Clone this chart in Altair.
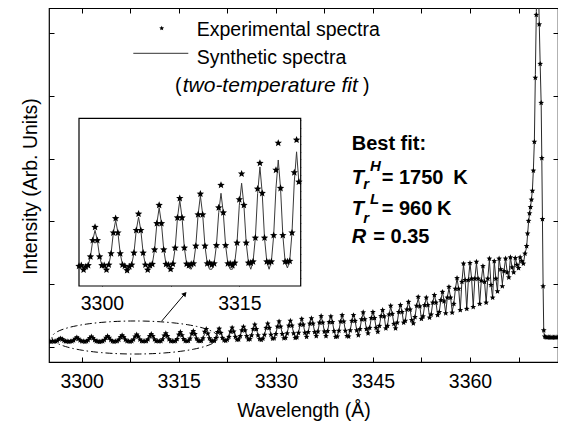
import math
import altair as alt
import pandas as pd

FONT = "Liberation Sans, Arial, Helvetica, sans-serif"

# ---------------- data ----------------
GRID_START = 3295.0
GRID_STEP = 0.25
# synthetic spectrum, one row per Angstrom (x.00, x.25, x.50, x.75)
synth_body = [
    0, 0, 0, 0,                 # 3295
    0.3, 1.5, 3.7, 5.0,         # 3296
    3.7, 1.5, 0.3, 0,           # 3297
    0, 0, 0.4, 1.8,             # 3298
    4.4, 6.0, 4.4, 1.8,         # 3299
    0.4, 0, 0, 0.5,             # 3300
    2.3, 5.6, 7.6, 5.6,         # 3301
    2.3, 0.5, 0, 0,             # 3302
    0, 0.5, 2.4, 6.0,           # 3303
    8.1, 6.0, 2.4, 0.5,         # 3304
    0, 0, 0.6, 2.9,             # 3305
    7.1, 9.6, 7.1, 2.9,         # 3306
    0.6, 0, 0, 0.65,            # 3307
    3.2, 8.0, 10.8, 8.0,        # 3308
    3.2, 0.65, 0, -0.2,         # 3309
    0.7, 3.5, 8.5, 11.5,        # 3310
    8.5, 3.5, 0.7, -0.2,        # 3311
    -0.2, 0.7, 3.6, 8.8,        # 3312
    11.9, 8.8, 3.6, 0.7,        # 3313
    -0.2, -0.2, 0.8, 4.0,       # 3314
    10.0, 13.5, 10.0, 4.0,      # 3315
    0.8, -0.2, 1.0, 4.8,        # 3316
    11.9, 16.1, 11.9, 4.8,      # 3317
    1.0, -0.2, 1.0, 5.2,        # 3318
    12.7, 17.2, 12.7, 5.2,      # 3319
    1.0, 0.0, 1.1, 5.6,         # 3320
    13.7, 18.5, 13.7, 5.8,      # 3321
    2.0, 1.2, 2.8, 7.5,         # 3322
    15.9, 21.0, 15.9, 7.5,      # 3323
    2.8, 3.3, 8.5, 17.8,        # 3324
    23.5, 17.8, 8.5, 3.3,       # 3325
    3.9, 9.7, 19.8, 26.0,       # 3326
    19.8, 9.7, 3.9, 2.6,        # 3327
    4.6, 10.8, 21.7, 28.5,      # 3328
    21.7, 10.8, 4.6, 5.2,       # 3329
    12.0, 23.7, 31.0, 23.7,     # 3330
    12.0, 5.2, 5.9, 13.0,       # 3331
    25.3, 33.0, 25.3, 13.0,     # 3332
    5.9, 6.5, 13.9, 26.9,       # 3333
    35.0, 26.9, 13.9, 7.5,      # 3334
    14.9, 28.5, 37.0, 28.5,     # 3335
    14.9, 8.5, 15.9, 30.2,      # 3336
    39.0, 30.2, 15.9, 8.5,      # 3337
    16.5, 31.0, 40.0, 31.0,     # 3338
    16.5, 7.5, 8.0, 17.2,       # 3339
    31.9, 41.0, 31.9, 17.2,     # 3340
    8.8, 8.0, 17.9, 32.8,       # 3341
    42.0, 32.8, 17.9, 10.0,     # 3342
    19.8, 35.4, 45.0, 35.4,     # 3343
    19.8, 13.0, 21.8, 37.4,     # 3344
    47.0, 37.4, 21.8, 15.5,     # 3345
    24.8, 40.4, 50.0, 40.0,     # 3346
    21, 25, 43, 55,             # 3347
    44, 28, 21, 30,             # 3348
    47, 58, 47, 30,             # 3349
    33, 51, 63, 51,             # 3350
    34, 29, 39, 57,             # 3351
    69, 56, 36, 40,             # 3352
    58, 70, 58, 40,             # 3353
    43, 62, 74, 62,             # 3354
    42, 47, 66, 79,             # 3355
    64, 45, 70, 85,             # 3356
    70, 48, 60, 84,             # 3357
    101, 84, 50, 95,            # 3358
    122, 98, 52, 98,            # 3359
    125, 100, 55, 100,          # 3360
    125, 100, 60, 97,           # 3361
    120, 95, 62, 100,           # 3362
    130, 90, 70, 128,           # 3363
    100, 80, 132, 115,          # 3364
    92, 112, 132, 110,          # 3365
    102, 134, 118, 110,         # 3366
    133, 122, 117, 134,         # 3367
    128, 124, 140,              # 3368
]
# experimental points that differ from the synthetic curve
exp_override = {
    3295.0: 0.3, 3295.25: -0.3, 3295.5: 0.4, 3295.75: 0.1, 3297.75: 0.4,
    3298.0: -0.3, 3298.25: 0.2, 3299.25: 6.5, 3300.25: 0.4, 3300.5: -0.3,
    3301.5: 7.9, 3302.5: 0.3, 3302.75: -0.4, 3303.0: 0.2, 3304.0: 8.6,
    3305.0: -0.3, 3305.25: 0.4, 3306.25: 10.0, 3307.25: 0.5, 3307.5: -0.2,
    3308.5: 11.1, 3309.5: 0.4, 3309.75: 0.6, 3310.75: 11.8, 3311.75: 0.8,
    3312.0: 0.5, 3312.75: 9.6, 3313.0: 13.2, 3314.0: 0.7, 3314.25: 0.4,
    3315.0: 10.9, 3315.25: 15.0, 3316.25: 0.8, 3317.0: 12.6, 3317.25: 16.7,
    3318.25: 0.9, 3319.0: 15.6, 3319.25: 19.9, 3320.25: 1.0, 3321.0: 15.2,
    3321.25: 20.4, 3323.25: 22.0, 3326.75: 27.0, 3330.5: 32.0, 3334.0: 36.0,
    3337.0: 40.5, 3340.25: 42.0, 3343.5: 46.5, 3347.75: 57.0, 3352.0: 71.0,
    3353.75: 38.0, 3356.75: 87.0, 3357.25: 46.0, 3359.0: 124.0, 3361.0: 127.0,
    3363.0: 132.0, 3365.0: 88.0,
}
# band head, sampled more finely
head_lam = [3368.75, 3368.9, 3369.05, 3369.2, 3369.35, 3369.5, 3369.65, 3369.8,
            3369.95, 3370.1, 3370.25, 3370.4, 3370.55, 3370.7, 3370.85, 3371.0,
            3371.1, 3371.2, 3371.3, 3371.4, 3371.55, 3371.7, 3371.9, 3372.1,
            3372.3, 3372.5, 3372.7, 3372.9, 3373.1, 3373.3, 3373.5]
head_exp = [152, 172, 192, 204, 214, 226, 240, 272, 318, 420, 520, 590, 575, 505,
            442, 380, 292, 195, 88, 18, 8, 7, 6.5, 6.8, 6.5, 6.7, 6.4, 6.6, 6.5,
            6.7, 6.5]
head_syn = [150, 170, 190, 203, 214, 226, 242, 275, 320, 425, 525, 595, 580, 508,
            440, 378, 290, 192, 86, 16, 6, 5.5, 5.5, 5.5, 5.5, 5.5, 5.5, 5.5, 5.5,
            5.5, 5.5]

X_TICK_LABELS = [3300, 3315, 3330, 3345, 3360]
INSET_TICK_LABELS = [3300, 3315]

# ---------------- layout constants ----------------
X_MAIN = [3294.95, 3373.6]
Y_MAIN = [-32.6, 531.0]
X_TICKS = [3300, 3307.5, 3315, 3322.5, 3330, 3337.5, 3345, 3352.5, 3360, 3367.5]
Y_TICKS = [-8.8, 91.2, 191.2, 291.2, 391.2, 491.2]
X_IN = [3297.5, 3321.7]
Y_IN = [-2.87, 23.84]
X_IN_TICKS = [3300, 3307.5, 3315]
Y_IN_TICKS = [round(5.94 + 1.26 * k, 2) for k in range(-6, 15)]
W, H = 509, 354

body_lam = [GRID_START + GRID_STEP * i for i in range(len(synth_body))]
body_exp = [exp_override.get(round(l, 2), v) for l, v in zip(body_lam, synth_body)]
df = pd.DataFrame({
    "lam": body_lam + head_lam,
    "exp": body_exp + head_exp,
    "syn": synth_body + head_syn,
})

STAR = ("M0,-1L0.2645,-0.364L0.951,-0.309L0.428,0.139L0.588,0.809L0,0.45"
        "L-0.588,0.809L-0.428,0.139L-0.951,-0.309L-0.2645,-0.364Z")

xs = alt.Scale(domain=X_MAIN, nice=False, zero=False)
ys = alt.Scale(domain=Y_MAIN, nice=False, zero=False)
xsi = alt.Scale(domain=X_IN, range=[30, 251.7], nice=False, zero=False)
ysi = alt.Scale(domain=Y_IN, range=[278, 110.3], nice=False, zero=False)

lab_expr = "indexof([" + ",".join(str(v) for v in X_TICK_LABELS) + "], datum.value) >= 0 ? format(datum.value, 'd') : ''"
lab_expr_in = "indexof([" + ",".join(str(v) for v in INSET_TICK_LABELS) + "], datum.value) >= 0 ? format(datum.value, 'd') : ''"

common = dict(grid=False, domain=False, tickColor="black", tickWidth=1,
              labelFont=FONT, labelColor="black", labelFontSize=19.5,
              titleFont=FONT, titleColor="black", titleFontSize=19.5,
              titleFontWeight="normal", labelFlush=False, labelOverlap=False)

ax_bottom = alt.Axis(orient="bottom", offset=-5, tickSize=5, values=X_TICKS,
                     labelExpr=lab_expr, labelPadding=10,
                     title="Wavelength (Å)", titleX=254.5, titleY=59,
                     titleAlign="center", titleBaseline="alphabetic", **common)
ax_top = alt.Axis(orient="top", offset=-5, tickSize=5, values=X_TICKS,
                  labels=False, title=None, **common)
ax_left = alt.Axis(orient="left", offset=-5, tickSize=5, values=Y_TICKS,
                   labels=False, title="Intensity (Arb. Units)", titleX=-17.5,
                   titleY=178, titleAngle=270, titleAlign="center",
                   titleBaseline="alphabetic", **common)
ax_right = alt.Axis(orient="right", offset=-5, tickSize=5, values=Y_TICKS,
                    labels=False, title=None, **common)

ai_bottom = alt.Axis(orient="bottom", offset=-80, tickSize=4, values=X_IN_TICKS,
                     labelExpr=lab_expr_in, labelPadding=8.6, title=None, **common)
ai_top = alt.Axis(orient="top", offset=-114.3, tickSize=4, values=X_IN_TICKS,
                  labels=False, title=None, **common)
ai_left = alt.Axis(orient="left", offset=-33, tickSize=3, values=Y_IN_TICKS,
                   labels=False, title=None, **common)
ai_right = alt.Axis(orient="right", offset=-260.3, tickSize=3, values=Y_IN_TICKS,
                    labels=False, title=None, **common)

base = alt.Chart(df)

main_line = base.mark_line(color="#2a2a2a", strokeWidth=1, clip=True).encode(
    x=alt.X("lam:Q", scale=xs, axis=ax_bottom),
    y=alt.Y("syn:Q", scale=ys, axis=ax_left),
)
main_pts = base.mark_point(shape=STAR, filled=True, color="black", size=36,
                           opacity=1, clip=True).encode(
    x=alt.X("lam:Q", scale=xs, axis=ax_top),
    y=alt.Y("exp:Q", scale=ys, axis=ax_right),
)

# dash-dot ellipse around the region magnified in the inset
ELL_CX, ELL_CY, ELL_A, ELL_B = 3308.24, 6.4, 12.83, 26.3
n = 120
ell_df = pd.DataFrame({
    "i": list(range(n + 1)),
    "x": [ELL_CX + ELL_A * math.cos(2 * math.pi * i / n) for i in range(n + 1)],
    "y": [ELL_CY + ELL_B * math.sin(2 * math.pi * i / n) for i in range(n + 1)],
})
ellipse = alt.Chart(ell_df).mark_line(color="black", strokeWidth=1,
                                      strokeDash=[7, 3, 1.5, 3]).encode(
    x=alt.X("x:Q", scale=xs, axis=None),
    y=alt.Y("y:Q", scale=ys, axis=None),
    order="i:Q",
)

ARROW = pd.DataFrame({"x": [3312.37], "y": [32.6], "x2": [3315.9], "y2": [75.5]})
ARROW_TIP = pd.DataFrame({"x": [3315.95], "y": [76.0]})
arrow = alt.Chart(ARROW).mark_rule(color="black", strokeWidth=1).encode(
    x=alt.X("x:Q", scale=xs, axis=None), x2="x2:Q",
    y=alt.Y("y:Q", scale=ys, axis=None), y2="y2:Q",
)
arrow_head = alt.Chart(ARROW_TIP).mark_point(shape="triangle-up", filled=True,
                                             color="black", size=30, angle=40.6,
                                             opacity=1).encode(
    x=alt.X("x:Q", scale=xs, axis=None),
    y=alt.Y("y:Q", scale=ys, axis=None),
)

one = pd.DataFrame({"a": [0]})


def label(text, x, y, size=19.5, weight="normal", style="normal"):
    return alt.Chart(pd.DataFrame({"t": [text]})).mark_text(
        font=FONT, fontSize=size, fontWeight=weight, fontStyle=style,
        align="left", baseline="alphabetic", color="black",
    ).encode(x=alt.value(x), y=alt.value(y), text="t:N")


legend_star = alt.Chart(one).mark_point(shape=STAR, filled=True, color="black",
                                        size=26, opacity=1).encode(
    x=alt.value(112.7), y=alt.value(20.3))
legend_line = alt.Chart(one).mark_rule(color="#333333", strokeWidth=1).encode(
    x=alt.value(84.3), x2=alt.value(139.3), y=alt.value(45.3))

texts = [
    label("Experimental spectra", 147.7, 28),
    label("Synthetic spectra", 147.7, 56),
    label("(", 126, 83.5),
    label("two-temperature fit", 133.7, 83.5, size=21, style="italic"),
    label(")", 314, 83.5),
    label("Best fit:", 302.7, 142, size=20, weight="bold"),
    label("T", 302.7, 175.5, size=20, weight="bold", style="italic"),
    label("H", 321, 162.7, size=15, weight="bold", style="italic"),
    label("r", 314.3, 181.3, size=15, weight="bold", style="italic"),
    label("= 1750", 332.7, 175.5, size=20, weight="bold"),
    label("K", 404.3, 175.5, size=20, weight="bold"),
    label("T", 302.7, 207, size=20, weight="bold", style="italic"),
    label("L", 321, 196, size=15, weight="bold", style="italic"),
    label("r", 314.3, 214.7, size=15, weight="bold", style="italic"),
    label("= 960", 332.7, 207, size=20, weight="bold"),
    label("K", 388, 207, size=20, weight="bold"),
    label("R", 302.7, 235.3, size=20, weight="bold", style="italic"),
    label("= 0.35", 324.3, 235.3, size=20, weight="bold"),
]

main_group = alt.layer(
    main_line, main_pts, ellipse, arrow, arrow_head, legend_line, legend_star, *texts
).resolve_axis(x="independent", y="independent")

frame_df = pd.DataFrame({"x0": [X_IN[0]], "x1": [X_IN[1]], "y0": [Y_IN[0]], "y1": [Y_IN[1]]})
frame = alt.Chart(frame_df).mark_rect(fill="white", stroke="black", strokeWidth=1.2).encode(
    x=alt.X("x0:Q", scale=xsi, axis=ai_bottom), x2="x1:Q",
    y=alt.Y("y0:Q", scale=ysi, axis=ai_left), y2="y1:Q",
)
inset_data = base.transform_filter(
    alt.FieldRangePredicate(field="lam", range=X_IN))
in_line = inset_data.mark_line(color="#3a3a3a", strokeWidth=1).encode(
    x=alt.X("lam:Q", scale=xsi, axis=ai_top),
    y=alt.Y("syn:Q", scale=ysi, axis=ai_right),
)
in_pts = inset_data.mark_point(shape=STAR, filled=True, color="black", size=60,
                               opacity=1).encode(
    x=alt.X("lam:Q", scale=xsi, axis=None),
    y=alt.Y("exp:Q", scale=ysi, axis=None),
)
inset_group = alt.layer(frame, in_line, in_pts).resolve_axis(
    x="independent", y="independent")

chart = alt.layer(main_group, inset_group).resolve_scale(
    x="independent", y="independent"
).properties(
    width=W, height=H,
    autosize=alt.AutoSizeParams(type="none"),
    padding={"left": 41, "top": 0, "right": 0, "bottom": 62},
    background="white",
).configure_view(stroke="black", strokeWidth=1.2)

chart.save("out.html", embed_options={"renderer": "svg", "actions": False})
